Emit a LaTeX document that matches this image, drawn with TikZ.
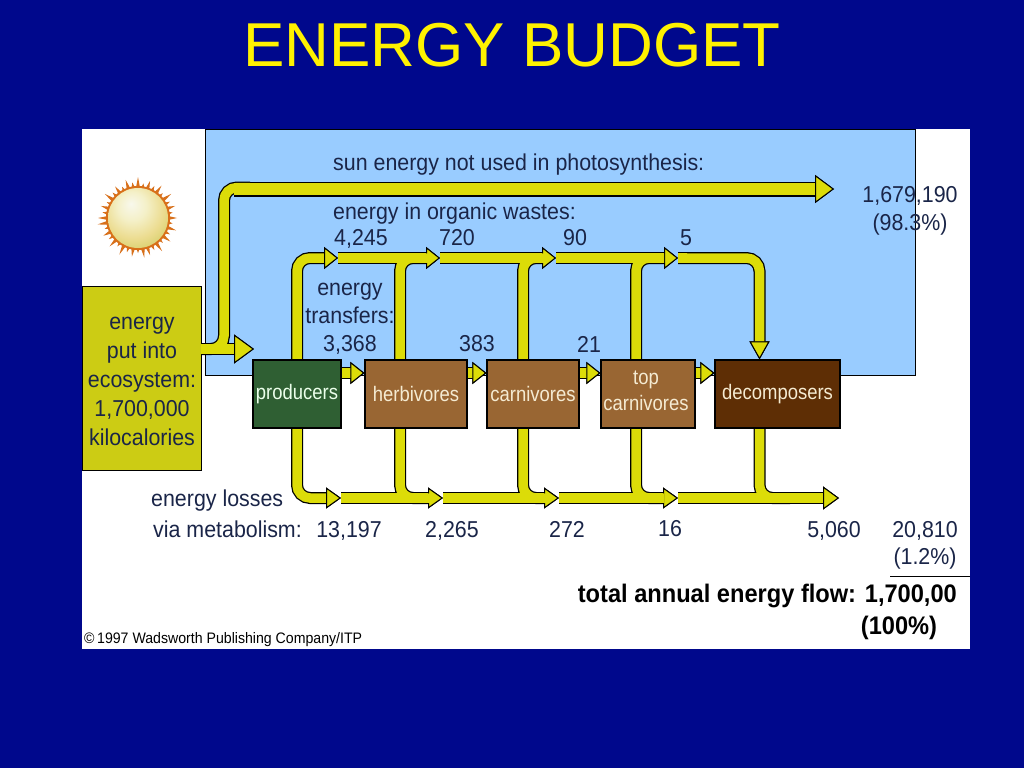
\documentclass[tikz,border=0pt]{standalone}
\usepackage{fontspec}
\setmainfont{Liberation Sans}
\newfontfamily\narrowfont[FakeStretch=0.88]{Liberation Sans}
\newfontfamily\labelfont[FakeStretch=0.93]{Liberation Sans}
\usetikzlibrary{arrows.meta,calc}
\definecolor{bgblue}{HTML}{00088C}
\definecolor{skyblue}{HTML}{99CCFF}
\definecolor{flow}{HTML}{DCDC08}
\definecolor{boxyellow}{HTML}{CCCC14}
\definecolor{mark}{HTML}{A86C10}
\definecolor{prodgreen}{HTML}{2F5F33}
\definecolor{midbrown}{HTML}{996633}
\definecolor{darkbrown}{HTML}{5E2E05}
\definecolor{labelink}{HTML}{1A2548}
\definecolor{ray}{HTML}{D8701A}
\definecolor{boxtext}{HTML}{F5EBD2}
\definecolor{sunA}{HTML}{F8F8EC}
\definecolor{sunB}{HTML}{F4F0C8}
\definecolor{sunC}{HTML}{ECDC90}
\definecolor{sunD}{HTML}{D0CC60}
\definecolor{sunE}{HTML}{B4BC38}
\definecolor{sunF}{HTML}{A8B030}
\pgfdeclareradialshading{sunball}{\pgfpoint{-6pt}{12pt}}{
  color(0pt)=(sunA);
  color(12pt)=(sunB);
  color(25pt)=(sunC);
  color(38pt)=(sunD);
  color(50pt)=(sunE);
  color(70pt)=(sunF)}
\newcommand\lbl[1]{\fontsize{#1}{#1}\selectfont\narrowfont}
\newcommand\lblw[1]{\fontsize{#1}{#1}\selectfont\labelfont}
\tikzset{
  headS/.tip={Triangle[length=14pt,width=22pt,line width=1pt,color=black,fill=flow]},
  headB/.tip={Triangle[length=15pt,width=21pt,line width=1pt,color=black,fill=flow]},
}
\newcommand\allflows{
  % not used in photosynthesis
  \draw[fl] (src) -- (224,349) -- (224,187.5) -- (250,187.5);
  \draw[fw,-{Triangle[length=19pt,width=28pt,line width=1pt,color=black,fill=flow]}] (234,189) -- (834,189);
  % input
  \draw[fl,-{Triangle[length=20pt,width=29pt,line width=1pt,color=black,fill=flow]}] (src) -- (254,349);
  % organic wastes
  \draw[fl,-headS] (prod.north) -- (297,258) -- (338,258);
  \draw[fl,-headS] (338,258) -- (440,258);
  \draw[fl] (herb.north -| 400,0) -- (400,258) -- (428,258);
  \draw[fl,-headS] (440,258) -- (556,258);
  \draw[fl] (carn.north -| 523,0) -- (523,258) -- (548,258);
  \draw[fl,-headS] (556,258) -- (678,258);
  \draw[fl] (top.north -| 636,0) -- (636,258) -- (664,258);
  \draw[fl,-{Triangle[length=18pt,width=20pt,line width=1pt,color=black,fill=flow]}] (678,258) -- (759.5,258) -- (decomp.north -| 759.5,0);
  % metabolism
  \draw[fl,-headB] (prod.south) -- (297,498) -- (341,498);
  \draw[fl,-headB] (341,498) -- (443,498);
  \draw[fl] (herb.south -| 400,0) -- (400,498) -- (430,498);
  \draw[fl,-headB] (443,498) -- (559,498);
  \draw[fl] (carn.south -| 523,0) -- (523,498) -- (548,498);
  \draw[fl,-headB] (559,498) -- (678,498);
  \draw[fl] (top.south -| 636,0) -- (636,498) -- (664,498);
  \draw[fl,-{Triangle[length=16pt,width=23pt,line width=1pt,color=black,fill=flow]}] (678,498) -- (839,498);
  \draw[fl] (decomp.south -| 759.5,0) -- (759.5,498) -- (790,498);
  % transfers
  \draw[fl,-headS] ([yshift=21pt]prod.east) -- ([yshift=21pt]herb.west);
  \draw[fl,-headS] ([yshift=21pt]herb.east) -- ([yshift=21pt]carn.west);
  \draw[fl,-headS] ([yshift=21pt]carn.east) -- ([yshift=21pt]top.west);
  \draw[fl,-headS] ([yshift=21pt]top.east) -- ([yshift=21pt]decomp.west);
}
\tikzset{
  organism/.style={draw=black,line width=1.2pt,minimum height=68pt,inner sep=0pt,align=center,text=boxtext,font=\lbl{21}},
  lab/.style={inner sep=0pt,text=labelink,font=\lblw{23},align=center},
  markshade/.style={left color=flow,middle color=mark,right color=flow}
}
\begin{document}
\begin{tikzpicture}[x=1pt,y=-1pt]
\useasboundingbox (0,0) rectangle (1024,768);
\fill[bgblue] (0,0) rectangle (1024,768);
\fill[white] (82,129) rectangle (970,649);
\draw[black,line width=1pt,fill=skyblue] (205.5,129) -- (915,129) -- (915,375) -- (205.5,375) -- cycle;
\fill[bgblue] (82,127) rectangle (970,129);
\node[inner sep=0pt,text=yellow,font=\fontsize{62}{62}\selectfont] (title) at (512,45) {ENERGY BUDGET};
% sun
\foreach \a/\r in {0/39,9/35,18/40,27/36,36/40,45/35,54/41,63/36,72/39,81/40,90/35,99/39,108/36,117/41,126/35,135/40,144/36,153/39,162/35,171/41,180/40,189/36,198/39,207/35,216/41,225/36,234/39,243/35,252/40,261/36,270/41,279/35,288/39,297/36,306/40,315/35,324/41,333/36,342/39,351/35}{
  \fill[ray] ($(138,218)+(\a-4.5:29)$) -- ($(138,218)+(\a:\r)$) -- ($(138,218)+(\a+4.5:29)$) -- cycle;
}
\fill[ray] (138,218) circle (32);
\shade[shading=sunball] (138,218) circle (30);
% nodes placed first so that flows can be attached to them
\node[organism,minimum width=88pt] (prod) at (297,394) {};
\node[organism,minimum width=102pt] (herb) at (416,394) {};
\node[organism,minimum width=92pt] (carn) at (533,394) {};
\node[organism,minimum width=94pt] (top) at (648,394) {};
\node[organism,minimum width=125pt] (decomp) at (777.5,394) {};
\node[draw=black,line width=1pt,fill=boxyellow,minimum width=119pt,minimum height=184pt,inner sep=0pt] (energy) at (141.5,378) {};
\coordinate (src) at (201,349);
% flows: black edge first, yellow core over it
\begin{scope}[rounded corners=13pt,line cap=butt]
  \tikzset{fl/.style={draw=black,line width=12pt},fw/.style={draw=black,line width=15pt}}
  \allflows
  \tikzset{fl/.style={draw=flow,line width=9.5pt},fw/.style={draw=flow,line width=12.5pt}}
  \allflows
\end{scope}
\foreach \x in {338,440,556,678}{\shade[markshade] (\x,253.5) rectangle (\x+9,262.5);}
\foreach \x in {341,443,559,678}{\shade[markshade] (\x,493.5) rectangle (\x+9,502.5);}
% boxes on top of flow ends
\node[organism,minimum width=88pt,fill=prodgreen,text=green!8!white] at (297,394) {producers};
\node[organism,minimum width=102pt,fill=midbrown] at (416,394) {herbivores};
\node[organism,minimum width=92pt,fill=midbrown] at (533,394) {carnivores};
\node[organism,minimum width=94pt,fill=midbrown] at (648,394) {};
\node[organism,minimum width=125pt,fill=darkbrown] at (777.5,394) {decomposers};
\node[inner sep=0pt,text=boxtext,font=\lbl{21},align=center] (toptext) at (646,391) {top\\[5pt]carnivores};
% labels
\node[lab,anchor=west] (t1) at (333,165) {sun energy not used in photosynthesis:};
\node[lab,anchor=west] (t2) at (333,214) {energy in organic wastes:};
\node[lab] (n1) at (361,239) {4,245};
\node[lab] (n2) at (457,238) {720};
\node[lab] (n3) at (575,238) {90};
\node[lab] (n4) at (686,238) {5};
\node[lab] (t3) at (350,319) {energy\\[5pt]transfers:\\[5pt]3,368};
\node[lab] (n5) at (477,344) {383};
\node[lab] (n6) at (589,344) {21};
\node[lab] (n7) at (910,211) {1,679,190\\[5pt](98.3\%)};
\node[lab] (t4) at (142,381) {energy\\[6pt]put into\\[6pt]ecosystem:\\[6pt]1,700,000\\[6pt]kilocalories};
\node[lab,anchor=west] (t5) at (151,501) {energy losses};
\node[lab,anchor=west] (t6) at (153,529) {via metabolism:};
\node[lab] (n8) at (349,531) {13,197};
\node[lab] (n9) at (452,531) {2,265};
\node[lab] (n10) at (567,529) {272};
\node[lab] (n11) at (670,529) {16};
\node[lab] (n12) at (834,531) {5,060};
\node[lab] (n13) at (925,531) {20,810};
\node[lab] (n14) at (925,559) {(1.2\%)};
\draw[black,line width=1pt] (890,576) -- (970,576);
\node[inner sep=0pt,anchor=east,text=black,font=\lblw{25.4}\bfseries] (t7) at (957,596) {total annual energy flow: 1,700,00};
\node[inner sep=0pt,text=black,font=\lblw{25.4}\bfseries] (t8) at (899,628) {(100\%)};
\node[inner sep=0pt,anchor=west,text=black,font=\lblw{15.2}] (t9) at (84,640) {©\,1997 Wadsworth Publishing Company/ITP};
\end{tikzpicture}
\end{document}
